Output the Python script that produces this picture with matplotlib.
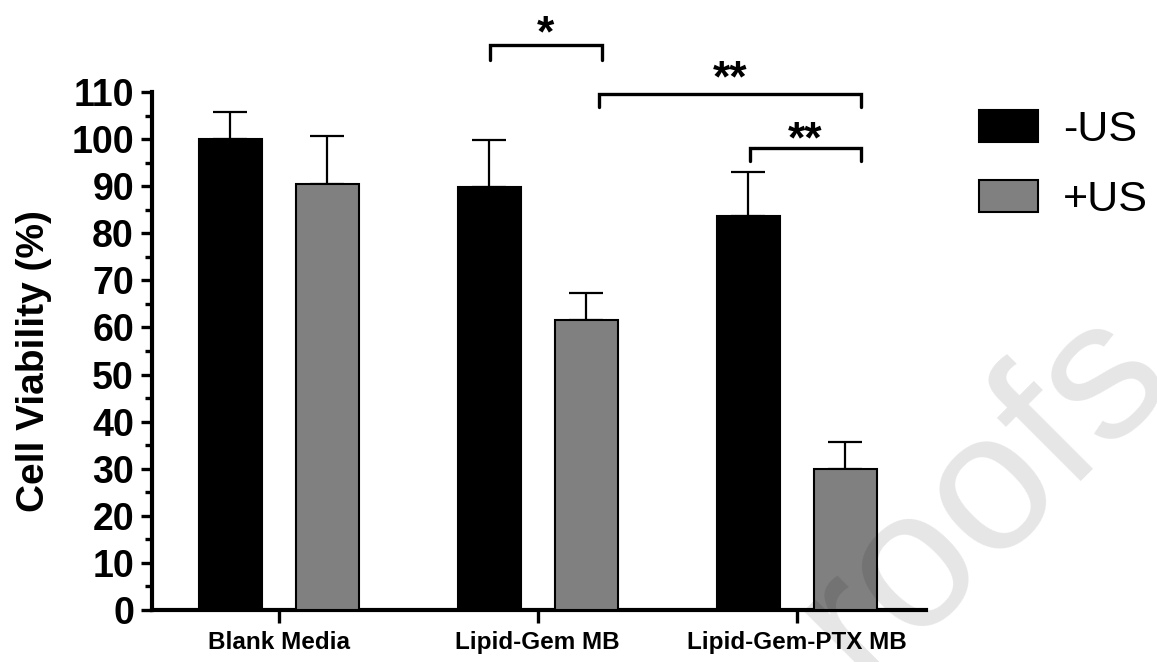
import numpy as np
import matplotlib.pyplot as plt
from matplotlib.ticker import MultipleLocator

plt.rcParams['font.family'] = ['Liberation Sans', 'DejaVu Sans']

# --- Data ---
groups = ['Blank Media', 'Lipid-Gem MB', 'Lipid-Gem-PTX MB']
minus_us = [100.0, 89.8, 83.6]
minus_us_err = [5.7, 10.0, 9.4]
plus_us = [90.4, 61.6, 30.0]
plus_us_err = [10.3, 5.7, 5.7]

# significance brackets: x_left, x_right, bar height, tick end, label, label baseline
sig_left = [0.815, 1.236, 1.819]
sig_right = [1.247, 2.247, 2.247]
sig_top = [120.0, 109.6, 98.1]
sig_end = [116.8, 106.8, 95.3]
sig_labels = ['*', '**', '**']
sig_label_y = [119.6, 110.2, 97.2]

# --- Figure ---
fig = plt.figure(figsize=(11.57, 6.62), dpi=100)
ax = fig.add_axes([0.1314, 0.0785, 0.8005 - 0.1314, 0.861 - 0.0785])

x = np.arange(len(groups))
w = 0.243
off = 0.187

ax.bar(x - off, minus_us, w, color='black', edgecolor='black', linewidth=1.5,
       label='-US', zorder=3)
ax.bar(x + off, plus_us, w, color='#808080', edgecolor='black', linewidth=1.5,
       label='+US', zorder=3)
ax.errorbar(x - off, minus_us, yerr=[np.zeros(3), minus_us_err], fmt='none',
            ecolor='black', elinewidth=1.6, capsize=12, capthick=1.6, zorder=2)
ax.errorbar(x + off, plus_us, yerr=[np.zeros(3), plus_us_err], fmt='none',
            ecolor='black', elinewidth=1.6, capsize=12, capthick=1.6, zorder=2)

for xl, xr, yb, ye, lab, ly in zip(sig_left, sig_right, sig_top, sig_end,
                                   sig_labels, sig_label_y):
    ax.plot([xl, xl, xr, xr], [ye, yb, yb, ye], color='black', lw=2.4,
            solid_capstyle='round', solid_joinstyle='miter', clip_on=False)
    ax.text((xl + xr) / 2, ly, lab, ha='center', va='baseline',
            fontsize=32, fontweight='bold', clip_on=False)

ax.set_xlim(-0.49, 2.5)
ax.set_ylim(0, 110)
ax.yaxis.set_major_locator(MultipleLocator(10))
ax.yaxis.set_minor_locator(MultipleLocator(5))
ax.set_xticks(x)
ax.set_xticklabels(groups, fontsize=17.5, fontweight='bold')
for t in ax.get_yticklabels():
    t.set_fontweight('bold')
ax.tick_params(axis='y', which='major', labelsize=27, length=8, width=2.4, pad=5)
ax.tick_params(axis='y', which='minor', length=5, width=2.4)
ax.tick_params(axis='x', length=9, width=2.4, pad=6)
ax.set_ylabel('Cell Viability (%)', fontsize=28, fontweight='bold')
ax.yaxis.set_label_coords(-0.129, 0.48)

for s in ['top', 'right']:
    ax.spines[s].set_visible(False)
for s in ['left', 'bottom']:
    ax.spines[s].set_linewidth(3)

ax.legend(loc='upper left', bbox_to_anchor=(0.8465, 0.834),
          bbox_transform=fig.transFigure, frameon=False, fontsize=31,
          handlelength=1.35, handleheight=0.75, handletextpad=0.6,
          labelspacing=0.7, borderpad=0, borderaxespad=0)

# faint watermark from the source page
fig.text(0.85, 0.255, 'roofs', fontsize=142, rotation=45, color='black',
         alpha=0.1, ha='center', va='center')

fig.savefig('out.png', dpi=100)
